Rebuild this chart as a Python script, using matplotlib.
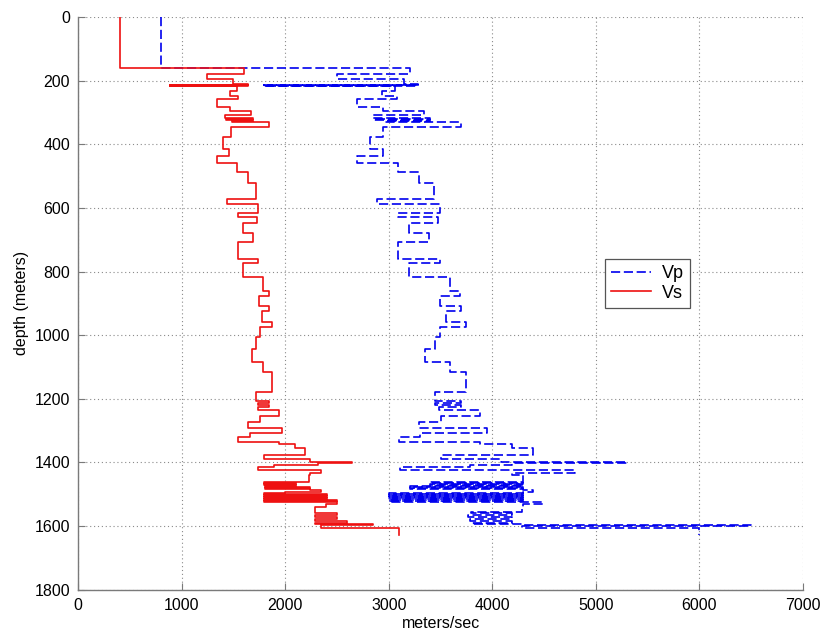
import matplotlib
matplotlib.use("Agg")
import matplotlib.pyplot as plt
import numpy as np

# Layer top depths (m) with shear (Vs) and compressional (Vp) velocities (m/s)
layer_top = [0, 160, 179, 195, 210, 212, 214, 216, 218, 232, 248, 258, 282, 294, 309,
             318, 321, 324, 328, 331, 345, 376, 416, 436, 460, 488, 521, 573, 588, 615,
             630, 647, 680, 708, 762, 774, 818, 860, 877, 908, 923, 958, 976, 1005, 1045,
             1084, 1115, 1178, 1206, 1213, 1220, 1226, 1235, 1254, 1272, 1293, 1308, 1321,
             1335, 1342, 1356, 1377, 1391, 1398, 1402, 1408, 1414, 1424, 1433, 1440, 1462,
             1465, 1468, 1471, 1474, 1477, 1480, 1483, 1487, 1492, 1497, 1500, 1503, 1506,
             1509, 1512, 1515, 1518, 1521, 1524, 1530, 1540, 1555, 1560, 1566, 1573, 1578,
             1584, 1590, 1594, 1597, 1600, 1607]
bottom_depth = 1630

vs = [400, 1600, 1240, 1490, 1640, 890, 1640, 890, 1530, 1465, 1540, 1337, 1465, 1665, 1417,
      1690, 1430, 1690, 1480, 1845, 1475, 1402, 1460, 1337, 1536, 1643, 1717, 1439, 1738, 1545,
      1729, 1588, 1691, 1540, 1738, 1588, 1787, 1845, 1745, 1845, 1771, 1868, 1752, 1713, 1675,
      1787, 1868, 1717, 1845, 1738, 1845, 1740, 1942, 1755, 1643, 1965, 1655, 1545,
      1942, 2093, 2193, 1794, 2238, 2641, 2320, 1890, 1738, 2341, 2238, 2230, 1790,
      2100, 1790, 2100, 1800, 2240, 1800, 2240, 2341, 2000, 1790, 2400, 1790, 2400,
      1790, 2400, 1790, 2496, 1790, 2496, 2393, 2290, 2290, 2496, 2290, 2496, 2290,
      2593, 2290, 2850, 2340, 2340, 3100]

vp = [800, 3200, 2500, 3150, 3280, 1790, 3280, 1790, 3060, 2930, 3080, 2690, 2940, 3340, 2850,
      3400, 2860, 3400, 2960, 3700, 2940, 2820, 2946, 2695, 3090, 3290, 3440, 2890, 3490, 3090,
      3470, 3190, 3390, 3090, 3490, 3190, 3590, 3690, 3490, 3700, 3550, 3745, 3490, 3445, 3350,
      3590, 3745, 3445, 3700, 3450, 3700, 3480, 3880, 3500, 3290, 3945, 3300, 3100,
      3880, 4186, 4390, 3500, 4080, 5300, 4190, 3780, 3110, 4797, 4190, 4300, 3400,
      4300, 3400, 4300, 3200, 4300, 3200, 4300, 4390, 4300, 3000, 4300, 3000, 4300,
      3000, 4300, 3000, 4300, 3000, 4490, 4300, 4283, 3790, 4186, 3760, 4186, 3780,
      4190, 3800, 4290, 6500, 4290, 6000]

x_ticks = [0, 1000, 2000, 3000, 4000, 5000, 6000, 7000]
y_ticks = [0, 200, 400, 600, 800, 1000, 1200, 1400, 1600, 1800]

plt.rcParams['font.family'] = ['Liberation Sans', 'DejaVu Sans']

fig = plt.figure(figsize=(8.25, 6.38), dpi=100)
ax = fig.add_axes([0.0949, 0.076, 0.8784, 0.8972])

depth_path = layer_top + [bottom_depth]
vp_path = vp + [vp[-1]]
vs_path = vs + [vs[-1]]

lp, = ax.plot(vp_path, depth_path, drawstyle='steps-pre', color='#0000ee',
              linestyle='--', linewidth=1.2, label='Vp')
lp.set_dashes([5.5, 2.2])
ax.plot(vs_path, depth_path, drawstyle='steps-pre', color='#ee1111',
        linestyle='-', linewidth=1.2, label='Vs')

ax.set_xlim(0, 7000)
ax.set_ylim(1800, 0)
ax.set_xticks(x_ticks)
ax.set_yticks(y_ticks)
ax.grid(True, linestyle=(0, (1, 2.5)), color='#8a8a8a', linewidth=0.8)
ax.set_axisbelow(True)

for s in ['top', 'right']:
    ax.spines[s].set_visible(False)
for s in ['left', 'bottom']:
    ax.spines[s].set_color('#7a7a7a')
    ax.spines[s].set_linewidth(1.0)

ax.tick_params(direction='in', length=5, color='#7a7a7a', labelsize=11.5,
               labelcolor='black', pad=6)
ax.set_xlabel('meters/sec', fontsize=11.5, labelpad=2)
ax.set_ylabel('depth (meters)', fontsize=11.5, labelpad=4)

leg = ax.legend(loc='center', bbox_to_anchor=(0.785, 0.535), fontsize=13,
                fancybox=False, framealpha=1, edgecolor='#555555',
                handlelength=2.2, handletextpad=0.6, borderpad=0.35,
                labelspacing=0.15)
leg.get_frame().set_linewidth(0.9)

fig.savefig('out.png', dpi=100)
